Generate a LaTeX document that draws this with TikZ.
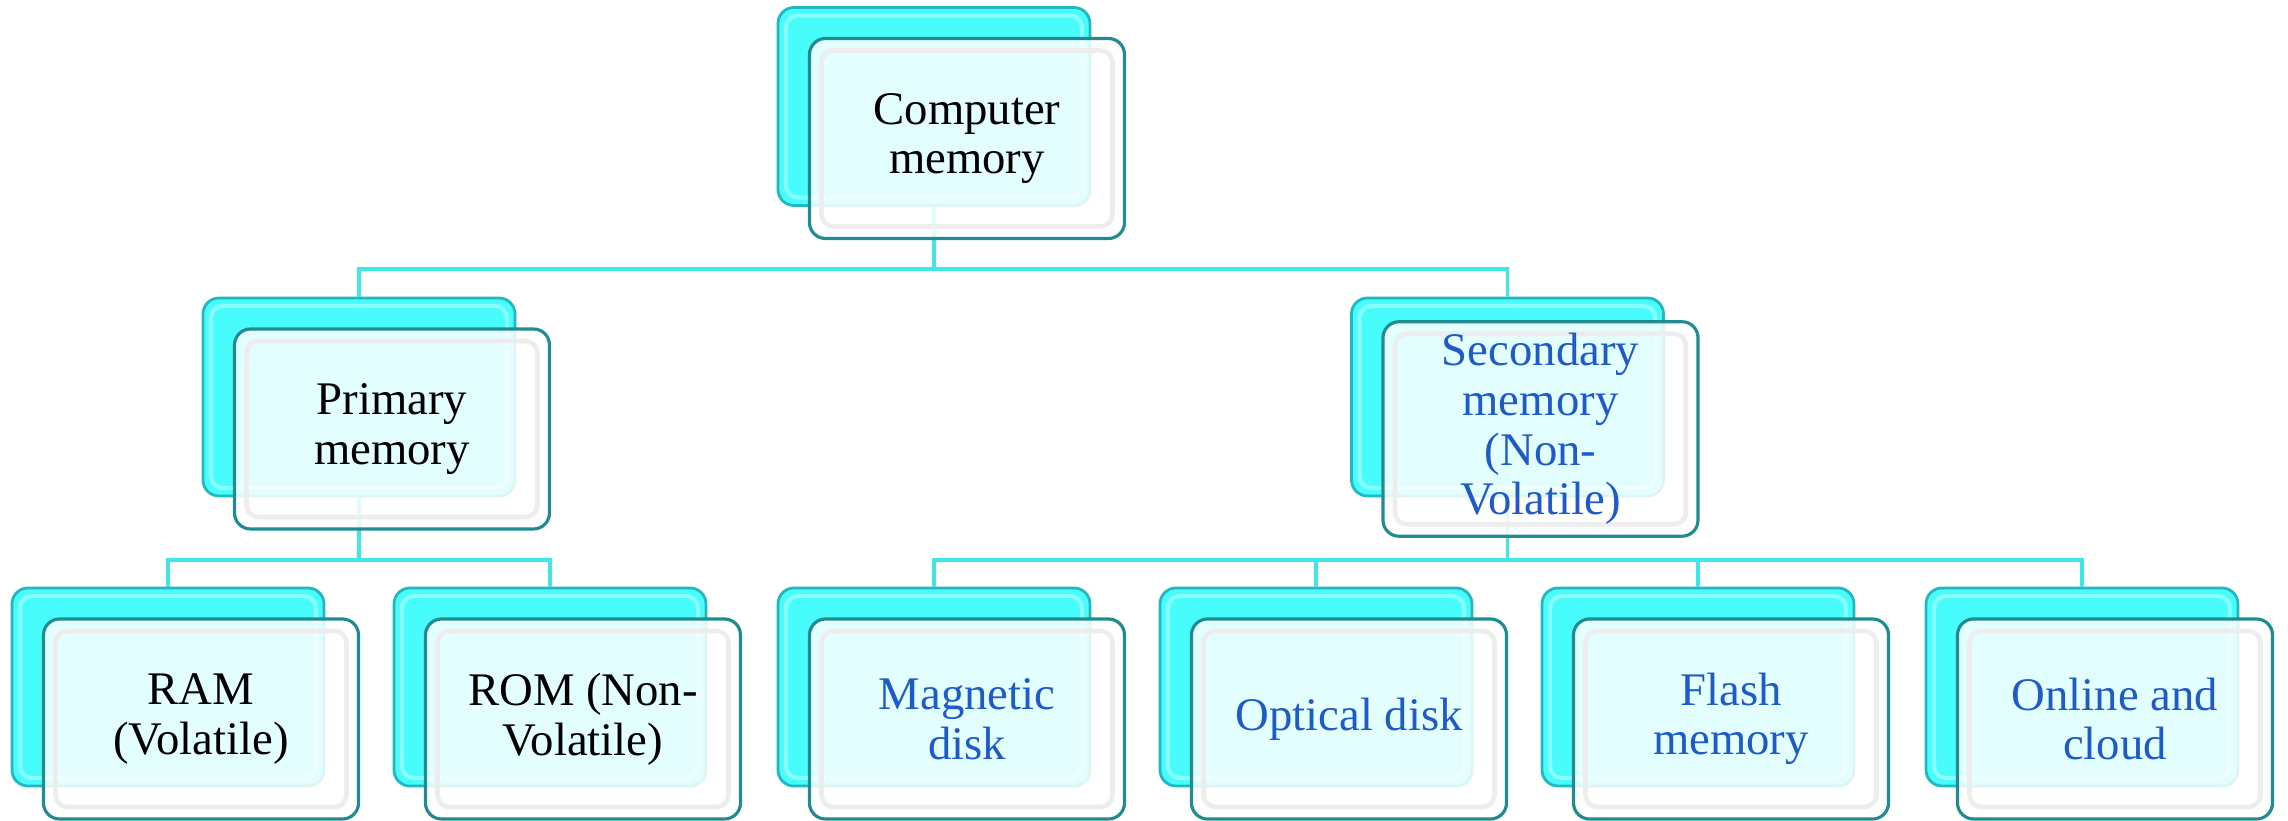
\documentclass[tikz,border=0pt]{standalone}
\usepackage{fontspec}
\setmainfont{Liberation Serif}
\usetikzlibrary{positioning}
\definecolor{backcyan}{RGB}{72,252,252}
\definecolor{backedge}{RGB}{34,184,192}
\definecolor{backlight}{RGB}{135,255,255}
\definecolor{frontedge}{RGB}{32,140,146}
\definecolor{linkcyan}{RGB}{62,232,232}
\definecolor{textblue}{RGB}{30,90,200}
\tikzset{
  backbox/.style={draw=backedge, fill=backcyan, line width=0.8pt, rounded corners=0.16cm,
    minimum width=3.12cm, minimum height=1.98cm, inner sep=0pt,
    path picture={\draw[backlight, line width=1.2pt, rounded corners=0.12cm]
      ([shift={(0.08,-0.08)}]path picture bounding box.north west) rectangle
      ([shift={(-0.08,0.08)}]path picture bounding box.south east);}},
  frontbox/.style={draw=frontedge, line width=0.9pt, fill=white, fill opacity=0.85, text opacity=1,
    rounded corners=0.16cm, minimum width=3.15cm, minimum height=2cm, align=center,
    font=\fontsize{13.3pt}{14.1pt}\selectfont, xshift=0.33cm, yshift=-0.32cm,
    path picture={\draw[black!7, line width=1.3pt, rounded corners=0.12cm]
      ([shift={(0.12,-0.12)}]path picture bounding box.north west) rectangle
      ([shift={(-0.12,0.12)}]path picture bounding box.south east);}},
  link/.style={draw=linkcyan, line width=1.1pt}
}
\begin{document}
\begin{tikzpicture}
\useasboundingbox (0,0) rectangle (22.88,-8.21);

\node[backbox] (cm) at (9.34,-1.065) {};
\node[backbox] (pm) at (3.59,-3.97) {};
\node[backbox] (sm) at (15.075,-3.97) {};
\node[backbox] (ram) at (1.68,-6.87) {};
\node[backbox] (rom) at (5.50,-6.87) {};
\node[backbox] (mag) at (9.34,-6.87) {};
\node[backbox] (opt) at (13.16,-6.87) {};
\node[backbox] (fla) at (16.98,-6.87) {};
\node[backbox] (onl) at (20.82,-6.87) {};

\draw[link] (cm.south) -- ++(0,-0.62) -| (pm.north);
\draw[link] (cm.south) -- ++(0,-0.62) -| (sm.north);
\foreach \c in {ram,rom}
  \draw[link] (pm.south) -- ++(0,-0.63) -| (\c.north);
\foreach \c in {mag,opt,fla,onl}
  \draw[link] (sm.south) -- ++(0,-0.63) -| (\c.north);

\node[frontbox] (cmf) at (cm) {Computer\\memory};
\node[frontbox] (pmf) at (pm) {Primary\\memory};
\node[frontbox, text=textblue] (smf) at (sm) {Secondary\\memory\\(Non-\\Volatile)};
\node[frontbox] (ramf) at (ram) {RAM\\(Volatile)};
\node[frontbox] (romf) at (rom) {ROM (Non-\\Volatile)};
\node[frontbox, text=textblue] (magf) at (mag) {Magnetic\\disk};
\node[frontbox, text=textblue] (optf) at (opt) {Optical disk};
\node[frontbox, text=textblue] (flaf) at (fla) {Flash\\memory};
\node[frontbox, text=textblue] (onlf) at (onl) {Online and\\cloud};
\end{tikzpicture}
\end{document}
